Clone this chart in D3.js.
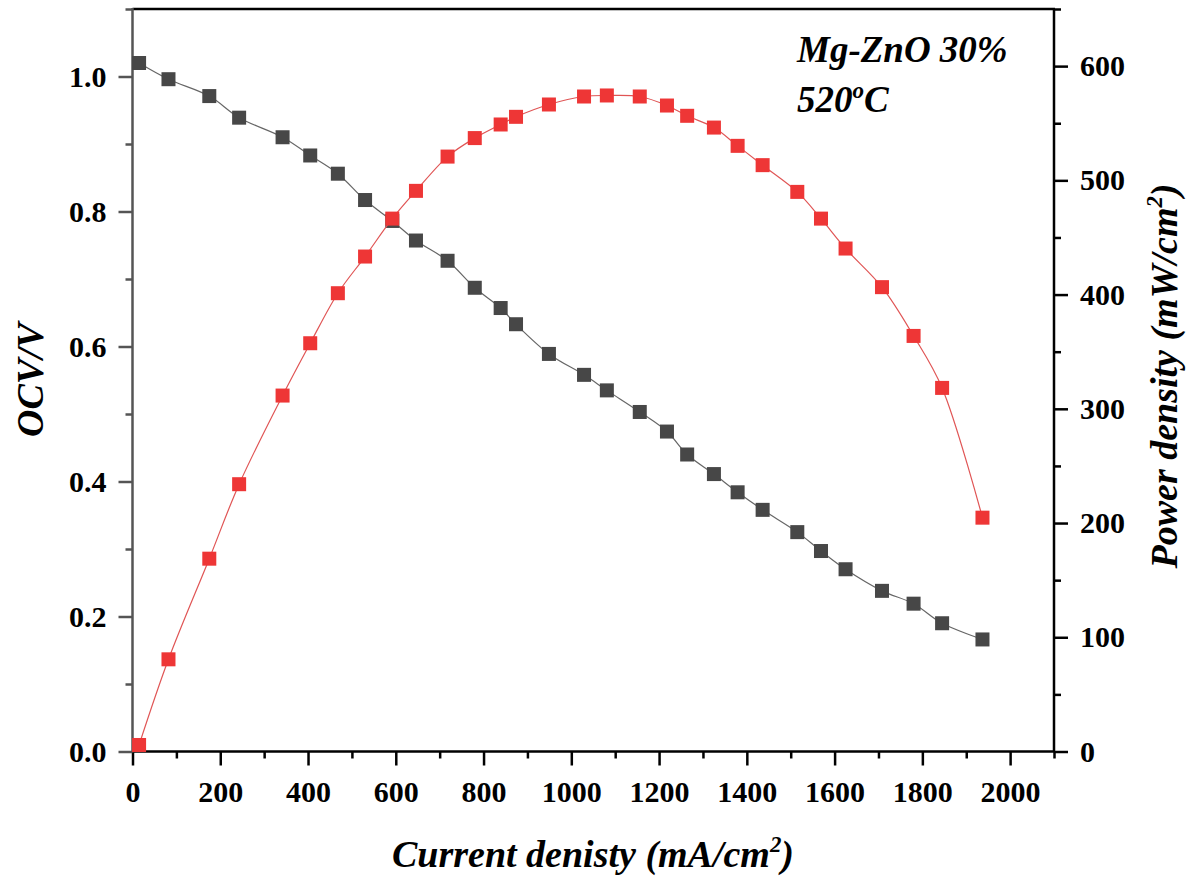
<!DOCTYPE html>
<html>
<head>
<meta charset="utf-8">
<script src="https://cdn.jsdelivr.net/npm/d3@7"></script>
<style>
html,body{margin:0;padding:0;background:#fff;}
svg{display:block;}
.tick text{font-family:"Liberation Serif","Times New Roman",serif;font-weight:bold;}
</style>
</head>
<body>
<svg id="chart" width="1193" height="882"></svg>
<script>
// ---- data ----
const currentDensity = [15, 82, 175, 243, 342, 405, 468, 530, 592, 646, 718, 780, 839, 874, 949, 1029, 1081, 1156, 1218, 1264, 1325, 1379, 1436, 1515, 1569, 1625, 1708, 1780, 1845, 1937];
const ocv = [1.020, 0.996, 0.971, 0.939, 0.910, 0.883, 0.856, 0.817, 0.786, 0.757, 0.727, 0.687, 0.657, 0.633, 0.589, 0.558, 0.535, 0.503, 0.474, 0.440, 0.411, 0.384, 0.358, 0.325, 0.297, 0.270, 0.238, 0.219, 0.190, 0.166];
const powerDensity = [5.7, 80.7, 168.8, 234, 311.6, 357.4, 401.2, 433.3, 466.5, 490.8, 520.8, 537, 548.9, 555.6, 566.4, 573.4, 574.3, 573.4, 565.5, 556.5, 546.2, 530.2, 513.3, 489.9, 466.5, 440.3, 406.5, 363.8, 318.3, 204.7];
const xMajorTicks = [0, 200, 400, 600, 800, 1000, 1200, 1400, 1600, 1800, 2000];
const xMinorTicks = [100, 300, 500, 700, 900, 1100, 1300, 1500, 1700, 1900, 2100];
const yLeftMajorTicks = [0, 0.2, 0.4, 0.6, 0.8, 1.0];
const yLeftMinorTicks = [0.1, 0.3, 0.5, 0.7, 0.9, 1.1];
const yRightMajorTicks = [0, 100, 200, 300, 400, 500, 600];
const yRightMinorTicks = [50, 150, 250, 350, 450, 550, 650];

// ---- layout ----
const L = 132.5, R = 1054, T = 9, B = 751.5;
const svg = d3.select("#chart");

const x = d3.scaleLinear().domain([0, 2100]).range([L, R]);
const yL = d3.scaleLinear().domain([0, 1.1]).range([B, T]);
const yR = d3.scaleLinear().domain([0, 650]).range([B, T]);

const serif = '"Liberation Serif","Times New Roman",serif';
const tickFont = 30;

function styleAxis(g, color, width) {
  g.select(".domain").remove();
  g.selectAll(".tick line").attr("stroke", color).attr("stroke-width", width);
  g.selectAll(".tick text").attr("fill", "#000").style("font-size", tickFont + "px");
}

// minor ticks
svg.append("g").attr("transform", `translate(0,${B})`)
  .call(d3.axisBottom(x).tickValues(xMinorTicks).tickSize(7).tickFormat(""))
  .call(g => styleAxis(g, "#000", 2.5));
svg.append("g").attr("transform", `translate(${L},0)`)
  .call(d3.axisLeft(yL).tickValues(yLeftMinorTicks).tickSize(7).tickFormat(""))
  .call(g => styleAxis(g, "#555", 2.5));
svg.append("g").attr("transform", `translate(${R},0)`)
  .call(d3.axisRight(yR).tickValues(yRightMinorTicks).tickSize(7).tickFormat(""))
  .call(g => styleAxis(g, "#000", 2.5));

// major ticks
svg.append("g").attr("transform", `translate(0,${B})`)
  .call(d3.axisBottom(x).tickValues(xMajorTicks).tickSize(14).tickPadding(15).tickFormat(d3.format("d")))
  .call(g => styleAxis(g, "#000", 2.5));
svg.append("g").attr("transform", `translate(${L},0)`)
  .call(d3.axisLeft(yL).tickValues(yLeftMajorTicks).tickSize(14).tickPadding(12).tickFormat(d3.format(".1f")))
  .call(g => styleAxis(g, "#555", 2.5));
svg.append("g").attr("transform", `translate(${R},0)`)
  .call(d3.axisRight(yR).tickValues(yRightMajorTicks).tickSize(14).tickPadding(12).tickFormat(d3.format("d")))
  .call(g => styleAxis(g, "#000", 2.5));

// frame lines
svg.append("line").attr("x1", L).attr("x2", R + 1).attr("y1", T).attr("y2", T).attr("stroke", "#000").attr("stroke-width", 2.5);
svg.append("line").attr("x1", R).attr("x2", R).attr("y1", T).attr("y2", B).attr("stroke", "#000").attr("stroke-width", 2.5);
svg.append("line").attr("x1", L).attr("x2", R + 1).attr("y1", B).attr("y2", B).attr("stroke", "#000").attr("stroke-width", 2.5);
svg.append("line").attr("x1", L).attr("x2", L).attr("y1", T - 1).attr("y2", B + 1).attr("stroke", "#555").attr("stroke-width", 2.5);

// series
const ocvData = currentDensity.map((c, i) => [c, ocv[i]]);
const pdData = currentDensity.map((c, i) => [c, powerDensity[i]]);
const ms = 14;

svg.append("path").datum(ocvData)
  .attr("d", d3.line().x(d => x(d[0])).y(d => yL(d[1])).curve(d3.curveCatmullRom))
  .attr("fill", "none").attr("stroke", "#666").attr("stroke-width", 1.2);
svg.append("g").selectAll("rect").data(ocvData).join("rect")
  .attr("x", d => x(d[0]) - ms / 2).attr("y", d => yL(d[1]) - ms / 2)
  .attr("width", ms).attr("height", ms).attr("fill", "#474747");

svg.append("path").datum(pdData)
  .attr("d", d3.line().x(d => x(d[0])).y(d => yR(d[1])).curve(d3.curveCatmullRom))
  .attr("fill", "none").attr("stroke", "#e05555").attr("stroke-width", 1.2);
svg.append("g").selectAll("rect").data(pdData).join("rect")
  .attr("x", d => x(d[0]) - ms / 2).attr("y", d => yR(d[1]) - ms / 2)
  .attr("width", ms).attr("height", ms).attr("fill", "#ee3636");

// axis titles
const titleSize = 38;
const xt = svg.append("text").attr("x", 593).attr("y", 867).attr("text-anchor", "middle")
  .attr("font-family", serif).attr("font-weight", "bold").attr("font-style", "italic").attr("font-size", titleSize);
xt.append("tspan").text("Current denisty (mA/cm");
xt.append("tspan").text("2").attr("font-size", titleSize * 0.6).attr("dy", -15);
xt.append("tspan").text(")").attr("dy", 15);

svg.append("text").attr("transform", "translate(43,380) rotate(-90)").attr("text-anchor", "middle")
  .attr("font-family", serif).attr("font-weight", "bold").attr("font-style", "italic").attr("font-size", titleSize)
  .text("OCV/V");

const rt = svg.append("text").attr("transform", "translate(1177,376) rotate(-90)").attr("text-anchor", "middle")
  .attr("font-family", serif).attr("font-weight", "bold").attr("font-style", "italic").attr("font-size", titleSize);
rt.append("tspan").text("Power density (mW/cm");
rt.append("tspan").text("2").attr("font-size", titleSize * 0.6).attr("dy", -15);
rt.append("tspan").text(")").attr("dy", 15);

// annotation
const annSize = 37;
svg.append("text").attr("x", 797).attr("y", 62)
  .attr("font-family", serif).attr("font-weight", "bold").attr("font-style", "italic").attr("font-size", annSize)
  .text("Mg-ZnO 30%");
const an = svg.append("text").attr("x", 797).attr("y", 112)
  .attr("font-family", serif).attr("font-weight", "bold").attr("font-style", "italic").attr("font-size", annSize);
an.append("tspan").text("520");
an.append("tspan").text("o").attr("font-size", 23).attr("dy", -14);
an.append("tspan").text("C").attr("dy", 14);
</script>
</body>
</html>
